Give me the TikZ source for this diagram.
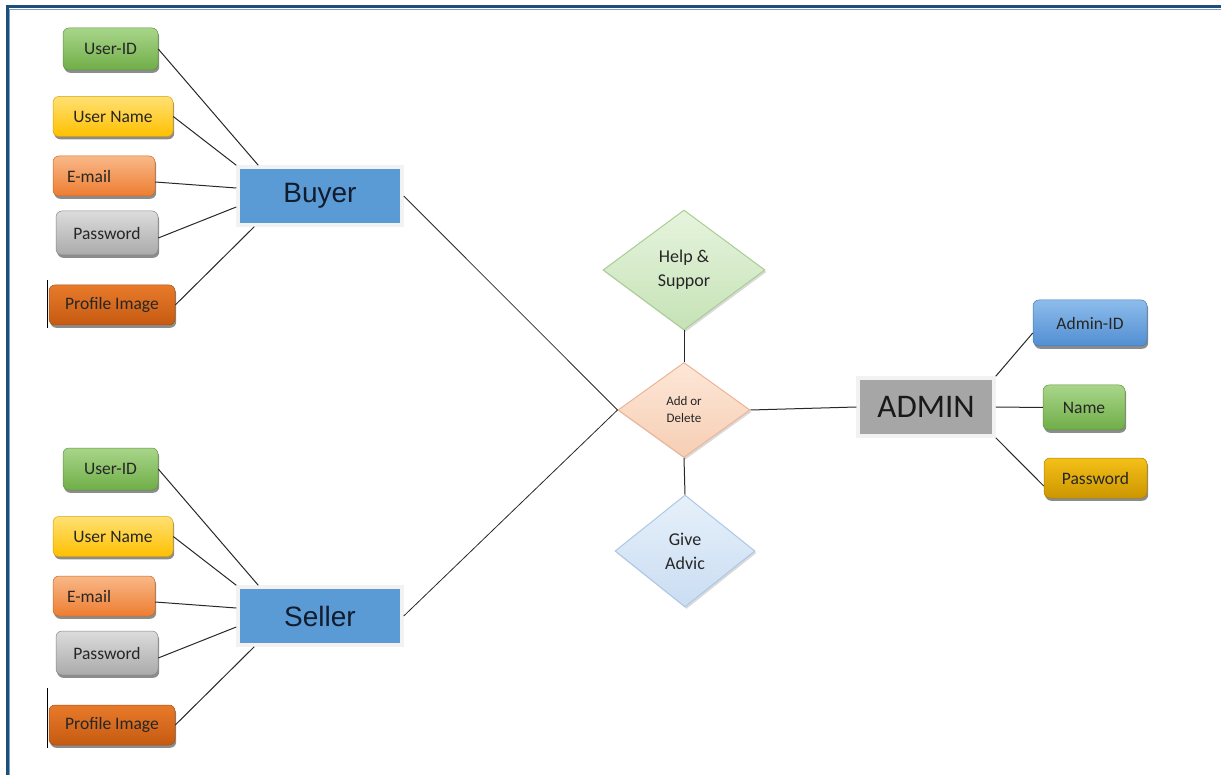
\documentclass[tikz,border=0pt]{standalone}
\usepackage{fontspec}
\setmainfont{Carlito}
\newfontfamily\entfont{Liberation Sans}
\usetikzlibrary{shapes.geometric,shadows}

\definecolor{frameblue}{RGB}{31,78,121}
\definecolor{framelight}{RGB}{120,160,200}
\definecolor{entblue}{RGB}{91,155,213}
\definecolor{entgray}{RGB}{166,166,166}
\definecolor{enttext}{RGB}{18,28,45}
\definecolor{greenT}{RGB}{168,214,138}
\definecolor{greenB}{RGB}{112,173,71}
\definecolor{yellowT}{RGB}{255,224,115}
\definecolor{yellowB}{RGB}{255,192,0}
\definecolor{orangeT}{RGB}{249,184,136}
\definecolor{orangeB}{RGB}{237,125,49}
\definecolor{grayT}{RGB}{220,220,220}
\definecolor{grayB}{RGB}{170,170,170}
\definecolor{rustT}{RGB}{232,122,42}
\definecolor{rustB}{RGB}{197,90,17}
\definecolor{blueT}{RGB}{140,188,235}
\definecolor{blueB}{RGB}{82,142,210}
\definecolor{goldT}{RGB}{244,192,24}
\definecolor{goldB}{RGB}{204,150,0}
\definecolor{helpT}{RGB}{230,244,222}
\definecolor{helpB}{RGB}{198,226,182}
\definecolor{helpD}{RGB}{168,206,148}
\definecolor{addT}{RGB}{253,231,215}
\definecolor{addB}{RGB}{246,206,180}
\definecolor{addD}{RGB}{236,180,150}
\definecolor{advT}{RGB}{230,240,250}
\definecolor{advB}{RGB}{202,221,242}
\definecolor{advD}{RGB}{170,200,230}
\definecolor{linkgray}{RGB}{40,40,40}

\begin{document}
\begin{tikzpicture}[x=1pt,y=-1pt,
  attr/.style={rectangle, rounded corners=6pt, inner sep=0pt,
    font=\fontsize{17.5}{19}\selectfont, text=black!85,
    line width=0.5pt,
    drop shadow={shadow xshift=1.2pt, shadow yshift=-2.8pt, fill=black, opacity=0.45}},
  green/.style={attr, top color=greenT, bottom color=greenB, draw=greenB!85!black},
  yellow/.style={attr, top color=yellowT, bottom color=yellowB, draw=yellowB!85!black},
  orange/.style={attr, top color=orangeT, bottom color=orangeB, draw=orangeB!85!black},
  grey/.style={attr, top color=grayT, bottom color=grayB, draw=grayB!80!black},
  rust/.style={attr, top color=rustT, bottom color=rustB, draw=rustB!85!black},
  bluebox/.style={attr, top color=blueT, bottom color=blueB, draw=blueB!85!black},
  gold/.style={attr, top color=goldT, bottom color=goldB, draw=goldB!85!black},
  entity/.style={rectangle, inner sep=0pt, draw=white!95!black, line width=3.5pt,
    drop shadow={shadow xshift=1.5pt, shadow yshift=-2pt, fill=black, opacity=0.3}},
  rel/.style={diamond, inner sep=0pt, align=center, line width=1pt, text=black!85,
    drop shadow={shadow xshift=1.5pt, shadow yshift=-2pt, fill=black, opacity=0.15}},
  link/.style={draw=linkgray, line width=1pt}
]
\useasboundingbox (0,0) rectangle (1221,775);

% page frame (top and left rules)
\draw[frameblue, line width=3pt] (7,775) -- (7,7) -- (1221,7);
\draw[framelight, line width=0.8pt] (9.5,775) -- (9.5,9.5) -- (1221,9.5);

% entities
\node[entity, fill=entblue, minimum width=164pt, minimum height=58pt,
      font=\entfont\fontsize{28}{32}\selectfont, text=enttext] (buyer) at (320,196) {Buyer};
\node[entity, fill=entblue, minimum width=164pt, minimum height=58pt,
      font=\entfont\fontsize{28}{32}\selectfont, text=enttext] (seller) at (320,616) {Seller};
\node[entity, fill=entgray, minimum width=136pt, minimum height=58pt,
      font=\fontsize{33}{36}\selectfont, text=black!90] (admin) at (926,407) {ADMIN};

% buyer attributes
\node[green,  minimum width=95pt,  minimum height=42pt] (buid)   at (110.5,49)  {User-ID};
\node[yellow, minimum width=120pt, minimum height=40pt] (buname) at (113,116.5) {User Name};
\node[orange, minimum width=102pt, minimum height=40pt, text width=74pt, align=left] (bmail) at (104,176) {E-mail};
\node[grey,   minimum width=102pt, minimum height=44pt] (bpwd)   at (107,233)   {Password};
\node[rust,   minimum width=126pt, minimum height=40pt] (bimg)   at (112,305)   {Profile Image};

% seller attributes
\node[green,  minimum width=95pt,  minimum height=42pt] (suid)   at (110.5,469)  {User-ID};
\node[yellow, minimum width=120pt, minimum height=40pt] (suname) at (113,536.5)  {User Name};
\node[orange, minimum width=102pt, minimum height=40pt, text width=74pt, align=left] (smail) at (104,596) {E-mail};
\node[grey,   minimum width=102pt, minimum height=44pt] (spwd)   at (107,653)    {Password};
\node[rust,   minimum width=126pt, minimum height=40pt] (simg)   at (112,725)    {Profile Image};

% admin attributes
\node[bluebox, minimum width=114pt, minimum height=46pt] (aid)   at (1090,323)   {Admin-ID};
\node[green,   minimum width=82pt,  minimum height=45pt] (aname) at (1084,407.5) {Name};
\node[gold,    minimum width=103pt, minimum height=40pt] (apwd)  at (1095.5,478) {Password};

% relationships
\node[rel, top color=helpT, bottom color=helpB, draw=helpD,
      minimum width=162pt, minimum height=120pt,
      font=\fontsize{18}{24}\selectfont] (help) at (684,270) {Help \&\\Suppor};
\node[rel, top color=addT, bottom color=addB, draw=addD,
      minimum width=132pt, minimum height=95pt,
      font=\fontsize{13}{17}\selectfont] (add) at (684,410) {Add or\\Delete};
\node[rel, top color=advT, bottom color=advB, draw=advD,
      minimum width=140pt, minimum height=112pt,
      font=\fontsize{18}{24}\selectfont] (advice) at (685,551) {Give\\Advic};

% buyer links
\draw[link] (buid.east) -- ([xshift=22pt]buyer.north west);
\draw[link] (buname.east) -- (buyer.north west);
\draw[link] ([yshift=-6pt]bmail.east) -- ([yshift=8pt]buyer.west);
\draw[link] ([yshift=-5pt]bpwd.east) -- ([yshift=-11pt]buyer.west);
\draw[link] (bimg.east) -- ([xshift=18pt]buyer.south west);

% seller links
\draw[link] (suid.east) -- ([xshift=22pt]seller.north west);
\draw[link] (suname.east) -- (seller.north west);
\draw[link] ([yshift=-6pt]smail.east) -- ([yshift=8pt]seller.west);
\draw[link] ([yshift=-5pt]spwd.east) -- ([yshift=-11pt]seller.west);
\draw[link] (simg.east) -- ([xshift=18pt]seller.south west);

% admin links
\draw[link] (admin.north east) -- ([yshift=-10pt]aid.west);
\draw[link] (admin.east) -- (aname.west);
\draw[link] (admin.south east) -- ([yshift=-8pt]apwd.west);

% relationship links
\draw[link, line width=0.8pt] (buyer.east) -- (add.west);
\draw[link, line width=0.8pt] (seller.east) -- (add.west);
\draw[link] (help.south) -- (add.north);
\draw[link] (add.south) -- (advice.north);
\draw[link] (add.east) -- (admin.west);

% thin rules at the left of the profile image boxes
\draw[black, line width=1pt] (47,280) -- (47,328);
\draw[black, line width=1pt] (47,688) -- (47,748);
\end{tikzpicture}
\end{document}
